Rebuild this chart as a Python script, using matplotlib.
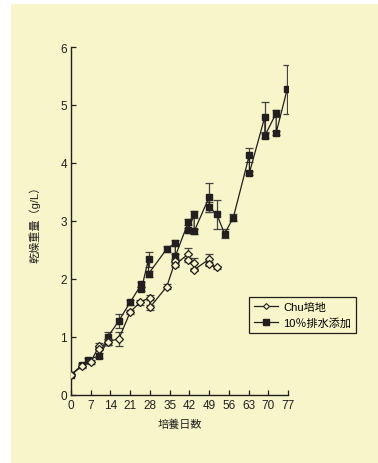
import matplotlib
matplotlib.use('Agg')
import matplotlib.pyplot as plt
from matplotlib.patches import Rectangle
from matplotlib.lines import Line2D

plt.rcParams['font.family'] = ['Liberation Sans', 'Noto Sans CJK JP']

# 10%排水添加 (四角)
dias_esgoto = [0, 4, 6, 10, 13, 13, 17, 21, 25, 25, 27.5, 27.5, 34, 37, 37, 41.6, 41.6,
               43.7, 43.7, 49, 49, 51.7, 54.5, 57.6, 63.3, 63.3, 68.8, 68.8, 72.8, 72.8, 76.7]
peso_esgoto = [0.35, 0.52, 0.60, 0.68, 0.92, 1.00, 1.28, 1.60, 1.91, 1.83, 2.34, 2.09, 2.52,
               2.62, 2.39, 2.98, 2.84, 3.12, 2.82, 3.41, 3.24, 3.12, 2.78, 3.06, 4.14, 3.83,
               4.80, 4.47, 4.86, 4.52, 5.27]
erro_esgoto = [0.02, 0.03, 0.03, 0.05, 0.05, 0.08, 0.12, 0.04, 0.04, 0.04, 0.13, 0.05, 0.05,
               0.05, 0.04, 0.05, 0.04, 0.06, 0.04, 0.25, 0.08, 0.25, 0.08, 0.06, 0.12, 0.04,
               0.26, 0.04, 0.06, 0.04, 0.42]

# Chu培地 (菱形)
dias_chu = [0, 4, 7, 10, 10, 13, 17, 21, 24.5, 28, 28, 34, 37, 37, 41.6, 41.6, 43.7, 43.7,
            49, 49, 51.8]
peso_chu = [0.35, 0.50, 0.57, 0.85, 0.80, 0.92, 0.97, 1.43, 1.60, 1.68, 1.51, 1.87, 2.31,
            2.25, 2.43, 2.33, 2.27, 2.16, 2.34, 2.26, 2.20]
erro_chu = [0.02, 0.03, 0.03, 0.04, 0.03, 0.05, 0.12, 0.04, 0.04, 0.05, 0.04, 0.05, 0.04,
            0.04, 0.10, 0.03, 0.09, 0.03, 0.09, 0.03, 0.02]

ticks_x = [0, 7, 14, 21, 28, 35, 42, 49, 56, 63, 70, 77]
ticks_y = [0, 1, 2, 3, 4, 5, 6]

fundo = '#f7f5c9'
escuro = '#231f20'

fig = plt.figure(figsize=(3.78, 4.64), dpi=100)
fig.patch.set_facecolor('white')
fig.patches.append(Rectangle((11 / 378, 0), 1, 1 - 5 / 464, transform=fig.transFigure,
                             facecolor=fundo, edgecolor='none', zorder=-10))

ax = fig.add_axes([71 / 378, 1 - 396 / 464, 217 / 378, 348 / 464])
ax.set_facecolor('none')

ax.errorbar(dias_esgoto, peso_esgoto, yerr=erro_esgoto, color=escuro, linewidth=0.9,
            marker='s', markersize=5, mfc=escuro, mec=escuro, ecolor='#444444',
            elinewidth=0.9, capsize=3, capthick=0.9, zorder=3)
ax.errorbar(dias_chu, peso_chu, yerr=erro_chu, color=escuro, linewidth=0.9,
            marker='D', markersize=3.8, mfc=fundo, mec=escuro, mew=0.9, ecolor='#444444',
            elinewidth=0.9, capsize=3, capthick=0.9, zorder=4)

ax.set_xlim(0, 77)
ax.set_ylim(0, 6)
ax.set_xticks(ticks_x)
ax.set_yticks(ticks_y)
ax.spines['top'].set_visible(False)
ax.spines['right'].set_visible(False)
for s in ['left', 'bottom']:
    ax.spines[s].set_linewidth(1.0)
    ax.spines[s].set_color(escuro)
ax.tick_params(direction='in', length=3.5, width=0.9, labelsize=8.5, colors=escuro, pad=3)

ax.set_xlabel('培養日数', fontsize=8, labelpad=5, color=escuro)
ax.set_ylabel('乾燥重量（g/L）', fontsize=8, labelpad=14, color=escuro)

# legenda só com linha + marcador
h_chu = Line2D([], [], color=escuro, linewidth=0.9, marker='D', markersize=3,
               mfc=fundo, mec=escuro, mew=0.8)
h_esgoto = Line2D([], [], color=escuro, linewidth=0.9, marker='s', markersize=4,
                  mfc=escuro, mec=escuro)
leg = fig.legend([h_chu, h_esgoto], ['Chu培地', '10％排水添加'], loc='upper left',
                 bbox_to_anchor=(249 / 378, 1 - 298 / 464), fontsize=8,
                 frameon=True, fancybox=False, edgecolor=escuro, facecolor=fundo,
                 framealpha=1, handlelength=2.2, borderpad=0.45, labelspacing=0.5,
                 handletextpad=0.4, borderaxespad=0)
leg.get_frame().set_linewidth(0.9)

fig.savefig('out.png', dpi=100)
